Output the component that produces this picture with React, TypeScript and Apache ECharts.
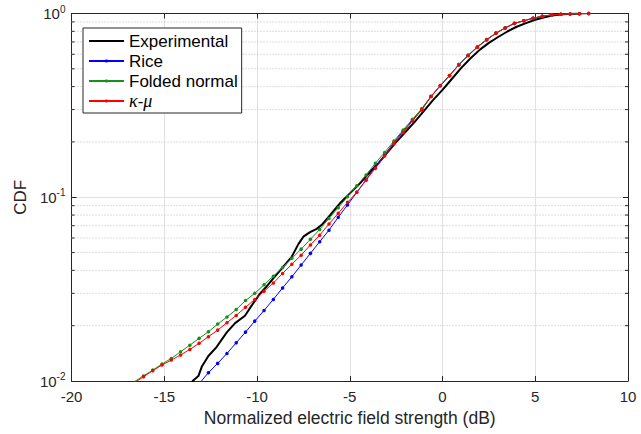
import React, { useEffect, useRef } from "react";
import * as echarts from "echarts";

// x positions (dB) of the model curves' markers
const modelX = [
  -16.62, -16.12, -15.62, -15.12, -14.62, -14.12, -13.62, -13.12, -12.62, -12.12,
  -11.62, -11.12, -10.62, -10.12, -9.62, -9.12, -8.62, -8.12, -7.62, -7.12,
  -6.62, -6.12, -5.62, -5.12, -4.62, -4.12, -3.62, -3.12, -2.62, -2.12,
  -1.62, -1.12, -0.62, -0.12, 0.38, 0.88, 1.38, 1.88, 2.38, 2.88,
  3.38, 3.88, 4.38, 4.88, 5.38, 5.88, 6.38, 6.88, 7.38, 7.88,
];

const riceCdf = [
  null, null, null, null, null, null, null, 0.00966, 0.0111, 0.01247,
  0.01413, 0.01614, 0.01845, 0.02118, 0.0242, 0.0278, 0.0321, 0.0369, 0.0428, 0.0495,
  0.0573, 0.0662, 0.0778, 0.0908, 0.1064, 0.1242, 0.1466, 0.170, 0.1986, 0.229,
  0.263, 0.302, 0.353, 0.4055, 0.46, 0.527, 0.592, 0.658, 0.721, 0.782,
  0.835, 0.884, 0.913, 0.943, 0.966, 0.982, 0.991, 0.995, 0.998, 0.999,
];

const foldedCdf = [
  0.0099, 0.01066, 0.01146, 0.01236, 0.01327, 0.01442, 0.01567, 0.01706, 0.01854, 0.0204,
  0.0223, 0.0245, 0.0274, 0.03, 0.0334, 0.0372, 0.0415, 0.0465, 0.0522, 0.059,
  0.0668, 0.0767, 0.0877, 0.1007, 0.1156, 0.1321, 0.1531, 0.1754, 0.2023, 0.2323,
  0.2655, 0.3034, 0.3548, 0.4046, 0.46, 0.527, 0.592, 0.658, 0.721, 0.782,
  0.835, 0.884, 0.913, 0.943, 0.966, 0.982, 0.991, 0.995, 0.998, 0.999,
];

const kappaMuCdf = [
  0.00977, 0.01054, 0.01138, 0.01222, 0.013, 0.01384, 0.01486, 0.01603, 0.01742, 0.01892,
  0.02075, 0.02275, 0.02518, 0.0278, 0.0308, 0.0341, 0.0385, 0.0432, 0.0484, 0.055,
  0.0622, 0.0715, 0.0817, 0.0938, 0.1064, 0.1242, 0.1436, 0.1675, 0.1963, 0.2244,
  0.26, 0.2985, 0.353, 0.4046, 0.458, 0.525, 0.589, 0.655, 0.718, 0.78,
  0.834, 0.883, 0.912, 0.942, 0.966, 0.982, 0.991, 0.995, 0.998, 0.999,
];

// experimental curve
const expX = [
  -13.6, -13.47, -13.16, -12.98, -12.62, -12.17, -11.63, -11.18, -10.65, -10.29,
  -9.84, -9.48, -9.12, -8.58, -8.13, -7.77, -7.5, -7.14, -6.78, -6.51,
  -6.06, -5.53, -4.99, -4.45, -3.9, -3.46, -3.0, -2.5, -2.0, -1.5,
  -1.0, -0.5, 0, 0.5, 1.0, 1.5, 2.0, 2.5, 3.0, 3.5,
  4.0, 4.5, 5.0, 5.5, 6.0, 6.5, 7.0, 7.5,
];
const expCdf = [
  0.0091, 0.01, 0.01064, 0.01194, 0.01368, 0.01535, 0.0184, 0.02065, 0.02265, 0.0257,
  0.0299, 0.0327, 0.0362, 0.0419, 0.0474, 0.0556, 0.061, 0.0646, 0.0673, 0.0708,
  0.08, 0.0927, 0.105, 0.119, 0.1377, 0.1528, 0.1738, 0.1995, 0.2265, 0.257,
  0.295, 0.339, 0.384, 0.44, 0.504, 0.569, 0.634, 0.692, 0.745, 0.798,
  0.847, 0.887, 0.925, 0.955, 0.977, 0.991, 0.998, 0.9995,
];

const xTicks = { min: -20, max: 10, interval: 5 };
const yRange = { min: 0.01, max: 1 };
const minorY = [0.02, 0.03, 0.04, 0.05, 0.06, 0.07, 0.08, 0.09, 0.2, 0.3, 0.4, 0.5, 0.6, 0.7, 0.8, 0.9];

const FONT = 'Arial, "Liberation Sans", Helvetica, sans-serif';
const AX = "#262626";

function pairs(xs: number[], ys: (number | null)[]) {
  return xs.map((x, i) => [x, ys[i]]);
}

export default function App() {
  const ref = useRef<HTMLDivElement>(null);
  useEffect(() => {
    document.body.style.margin = "0";
    const chart = echarts.init(ref.current!, undefined, { renderer: "svg" });
    const yLabel = (v: number) => {
      const e = Math.round(Math.log10(v));
      return `{b|10}{s|${e}}`;
    };
    const axisLine = { show: true, onZero: false, lineStyle: { color: AX, width: 1 } };
    const axisTick = { show: true, inside: true, length: 5, lineStyle: { color: AX } };
    const option: any = {
      animation: false,
      backgroundColor: "#fff",
      textStyle: { fontFamily: FONT },
      grid: { left: 71.5, right: 13, top: 13.5, bottom: 53, containLabel: false },
      legend: {
        orient: "vertical",
        left: 83,
        top: 28,
        padding: [3, 4, 2, 5],
        itemGap: 0,
        itemWidth: 35,
        itemHeight: 4,
        borderColor: AX,
        borderWidth: 1,
        backgroundColor: "#fff",
        data: [
          { name: "Experimental", itemStyle: { opacity: 0 } },
          "Rice",
          "Folded normal",
          "κ-μ",
        ],
        formatter: (n: string) => (n === "κ-μ" ? "{i|κ}-{i|μ}" : n),
        textStyle: {
          fontFamily: FONT,
          fontSize: 17,
          lineHeight: 20,
          color: "#000",
          rich: {
            i: { fontFamily: '"Liberation Serif", "Times New Roman", serif', fontStyle: "italic", fontSize: 18, lineHeight: 20 },
          },
        },
      },
      xAxis: [
        {
          type: "value",
          ...xTicks,
          position: "bottom",
          name: "Normalized electric field strength (dB)",
          nameLocation: "middle",
          nameGap: 24,
          nameTextStyle: { fontSize: 17.5, color: AX, fontFamily: FONT },
          axisLine,
          axisTick,
          axisLabel: { fontSize: 15, color: AX, margin: 8, fontFamily: FONT },
          splitLine: { show: true, lineStyle: { color: "#e1e1e1", width: 1 } },
        },
        {
          type: "value",
          ...xTicks,
          position: "top",
          axisLine,
          axisTick,
          axisLabel: { show: false },
          splitLine: { show: false },
        },
      ],
      yAxis: [
        {
          type: "log",
          logBase: 10,
          ...yRange,
          position: "left",
          name: "CDF",
          nameLocation: "middle",
          nameGap: 42,
          nameTextStyle: { fontSize: 17, color: AX, fontFamily: FONT },
          axisLine,
          axisTick,
          axisLabel: {
            color: AX,
            margin: 6,
            formatter: yLabel,
            rich: {
              b: { fontSize: 15, color: AX, fontFamily: FONT },
              s: { fontSize: 10, color: AX, fontFamily: FONT, padding: [0, 0, 9, 0] },
            },
          },
          splitLine: { show: true, lineStyle: { color: "#e1e1e1", width: 1 } },
        },
        {
          type: "log",
          logBase: 10,
          ...yRange,
          position: "right",
          axisLine,
          axisTick,
          axisLabel: { show: false },
          splitLine: { show: false },
        },
      ],
      series: [
        {
          type: "custom",
          name: "minorGrid",
          silent: true,
          z: 1,
          xAxisIndex: 0,
          yAxisIndex: 0,
          clip: false,
          data: minorY.map((v) => [xTicks.min, v]),
          renderItem: (params: any, api: any) => {
            const v = api.value(1);
            const p1 = api.coord([xTicks.min, v]);
            const p2 = api.coord([xTicks.max, v]);
            return {
              type: "group",
              children: [
                { type: "line", shape: { x1: p1[0], y1: p1[1], x2: p2[0], y2: p2[1] }, style: { stroke: "#bdbdbd", lineWidth: 1, lineDash: [1, 2] } },
                { type: "line", shape: { x1: p1[0], y1: p1[1], x2: p1[0] + 3, y2: p1[1] }, style: { stroke: AX, lineWidth: 1 } },
                { type: "line", shape: { x1: p2[0] - 3, y1: p2[1], x2: p2[0], y2: p2[1] }, style: { stroke: AX, lineWidth: 1 } },
              ],
            };
          },
        },
        {
          type: "line",
          name: "Experimental",
          data: pairs(expX, expCdf),
          showSymbol: false,
          symbol: "none",
          lineStyle: { color: "#000", width: 2 },
          itemStyle: { color: "#000" },
          z: 3,
        },
        {
          type: "line",
          name: "Rice",
          data: pairs(modelX, riceCdf),
          symbol: "circle",
          symbolSize: 3.5,
          lineStyle: { color: "#0000ff", width: 1 },
          itemStyle: { color: "#0000ff" },
          z: 4,
        },
        {
          type: "line",
          name: "Folded normal",
          data: pairs(modelX, foldedCdf),
          symbol: "circle",
          symbolSize: 3.5,
          lineStyle: { color: "#16901a", width: 1 },
          itemStyle: { color: "#16901a" },
          z: 5,
        },
        {
          type: "line",
          name: "κ-μ",
          data: pairs(modelX, kappaMuCdf),
          symbol: "circle",
          symbolSize: 3.5,
          lineStyle: { color: "#ff0000", width: 1 },
          itemStyle: { color: "#ff0000" },
          z: 6,
        },
      ],
    };
    chart.setOption(option);
    return () => chart.dispose();
  }, []);
  return <div ref={ref} style={{ width: 641, height: 434 }} />;
}
